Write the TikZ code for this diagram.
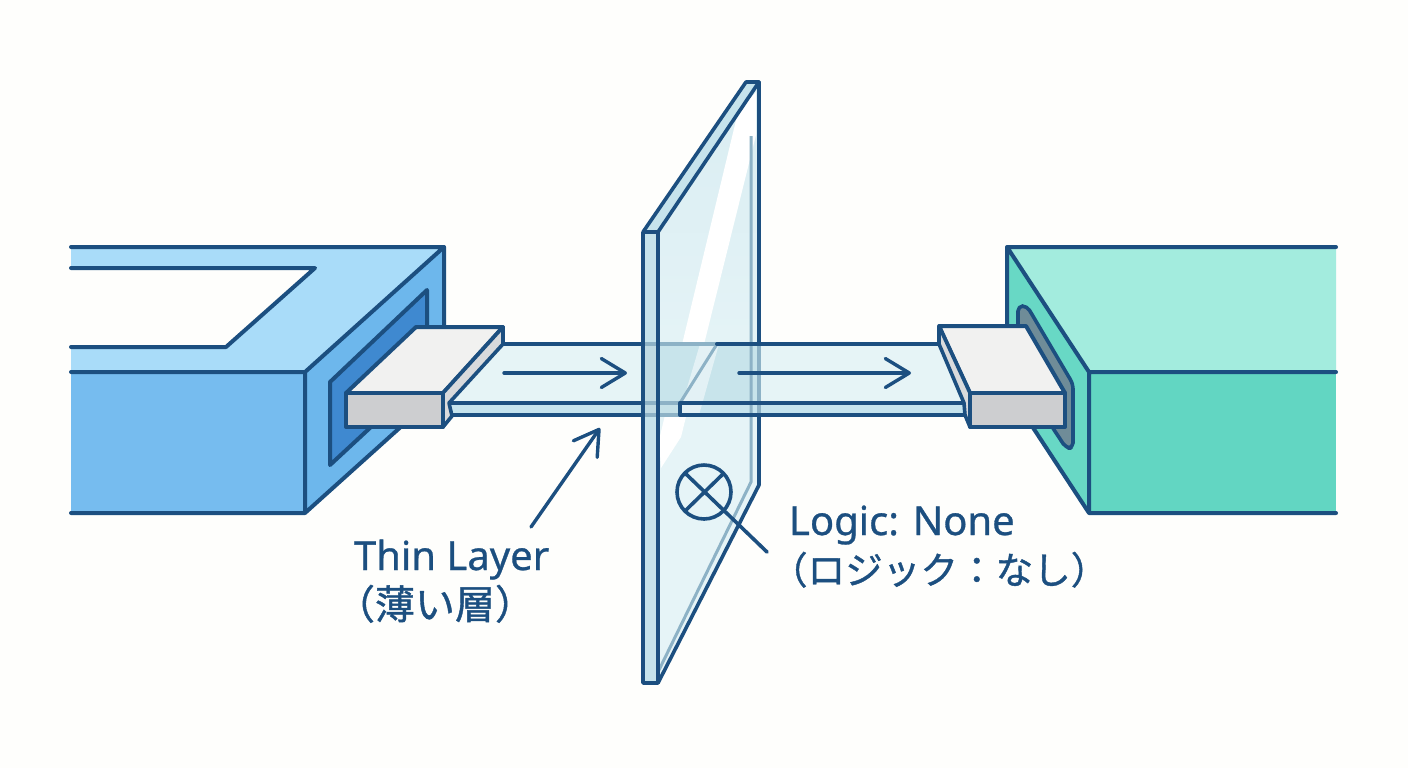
\documentclass[tikz,border=0pt]{standalone}
\usepackage{fontspec}
\setmainfont[FakeBold=0.7]{Noto Sans}
\newfontfamily\cjk[FakeBold=1]{Noto Sans CJK JP}
\usetikzlibrary{arrows.meta}
\definecolor{ink}{HTML}{1C4F80}
\definecolor{muted}{HTML}{8DB2C6}
\definecolor{paper}{HTML}{FEFEFC}
\definecolor{lbfront}{HTML}{76BCEF}
\definecolor{lbtop}{HTML}{A9DCF9}
\definecolor{lbside}{HTML}{6DB7EC}
\definecolor{lbrec}{HTML}{3F89D0}
\definecolor{rbfront}{HTML}{62D6C2}
\definecolor{rbtop}{HTML}{A3ECDE}
\definecolor{rbside}{HTML}{68D8C5}
\definecolor{slotc}{HTML}{6F8C98}
\definecolor{plTop}{HTML}{F1F1F0}
\definecolor{plFront}{HTML}{CDCED0}
\definecolor{plSide}{HTML}{D9DADC}
\definecolor{layer}{HTML}{E6F4F6}
\definecolor{layerdk}{HTML}{C8E4EB}
\definecolor{strip}{HTML}{C6E4EE}
\definecolor{glass}{HTML}{E6F4F7}
\definecolor{glasstop}{HTML}{D9EDF2}
\definecolor{glassedge}{HTML}{C6E3EC}
\tikzset{
  edge/.style={draw=ink,line width=2pt,line cap=round,line join=round},
  thinedge/.style={draw=ink,line width=1.8pt,line cap=round,line join=round},
  faint/.style={draw=muted,line width=1.5pt},
  flow/.style={draw=ink,line width=1.7pt,line cap=round,-{Straight Barb[length=12pt,width=14.5pt,line width=1.7pt,round]}},
  label/.style={text=ink,font=\fontsize{20pt}{24pt}\selectfont,anchor=base west,inner sep=0pt,outer sep=0pt},
  labelb/.style={label,font=\fontsize{18.8pt}{24pt}\selectfont},
}
\begin{document}
\begin{tikzpicture}[x=0.5pt,y=-0.5pt]
\useasboundingbox (0,0) rectangle (1408,768);
\fill[paper] (0,0) rectangle (1408,768);

% left box
\fill[lbside] (305,372) -- (444,247) -- (444,388) -- (305,513) -- cycle;
\fill[lbfront] (71,372) rectangle (305,513);
\fill[lbtop] (71,247) -- (444,247) -- (305,372) -- (71,372) -- cycle;
\fill[paper] (71,268) -- (315,268) -- (226,347) -- (71,347) -- cycle;
\path[edge,fill=lbrec] (330,382) -- (427,290) -- (427,375) -- (330,465) -- cycle;
\draw[edge] (71,247) -- (444,247) -- (305,372) (71,268) -- (315,268) -- (226,347) -- (71,347);
\draw[edge] (71,372) -- (305,372) -- (305,513) (71,513) -- (305,513) -- (444,388) -- (444,247);

% right box
\fill[rbside] (1007,247) -- (1089,372) -- (1089,513) -- (1007,388) -- cycle;
\fill[rbtop] (1007,247) -- (1336,247) -- (1336,372) -- (1089,372) -- cycle;
\fill[rbfront] (1089,372) rectangle (1336,513);
\path[thinedge,fill=slotc,rounded corners=2.5pt] (1018,306) -- (1027,306) -- (1073,384) -- (1073,448) -- (1066,448) -- (1018,375) -- cycle;
\draw[edge] (1336,247) -- (1007,247) -- (1089,372) -- (1336,372) (1089,372) -- (1089,513) (1336,513) -- (1089,513) -- (1007,388) -- (1007,247);

% left layer
\fill[layer] (449,403) -- (503,344) -- (643,344) -- (643,403) -- cycle;
\fill[strip] (449,403) rectangle (643,415);
\coordinate (la) at (504,373);
\coordinate (lb) at (627,373);
\draw[flow] (la) -- (lb);

% glass
\shade[top color=glasstop,bottom color=glass,middle color=glass] (658,232) -- (759,82) -- (759,485) -- (658,683) -- cycle;
\fill[glassedge] (643,232) -- (746,82) -- (759,82) -- (658,232) -- cycle;
\fill[glassedge] (643,232) rectangle (658,683);
\fill[white] (738,112) -- (756,92) -- (756,135) -- (681,437) -- (661,468) -- (659,440) -- cycle;
\fill[layerdk] (658,344) -- (717,344) -- (680,403) -- (658,403) -- cycle;
\fill[strip!85!black!10!layerdk] (658,403) rectangle (680,415);
\fill[strip!90!gray] (643,344) rectangle (658,415);
% right layer
\fill[layer] (717,344) -- (939,344) -- (964,403) -- (680,403) -- cycle;
\fill[layerdk] (717,344) -- (759,344) -- (759,403) -- (680,403) -- cycle;
\fill[strip] (680,403) rectangle (965,415);
% streak over the layer
\fill[white,opacity=.5] (700,344) -- (719,344) -- (699,415) -- (679,415) -- cycle;
% inner faint lines
\draw[faint] (751,136) -- (751,482) -- (658,672);
% through-glass lines
\draw[faint,line width=1.7pt] (643,344) -- (717,344) (643,403) -- (680,403) (643,415) -- (680,415) (759,344) -- (759,415);
\draw[faint] (717,344) -- (680,403);
% glass outline
\draw[thinedge] (643,232) -- (746,82) -- (759,82) -- (658,232) -- (643,232) -- (643,683) -- (658,683) -- (658,232);
\draw[thinedge] (759,82) -- (759,344) (759,415) -- (759,485) -- (658,683);

% layer lines
\draw[edge] (503,344) -- (643,344) (449,403) -- (643,403) (452,415) -- (643,415);
\draw[edge] (717,344) -- (939,344) (680,403) -- (964,403) (680,403) -- (680,415) -- (965,415);
\coordinate (ra) at (739,373);
\coordinate (rb) at (911,373);
\draw[flow] (ra) -- (rb);

% left plate
\path[edge,fill=plTop] (346,393) -- (416,327) -- (503,327) -- (443,393) -- cycle;
\path[edge,fill=plFront] (346,393) rectangle (443,427);
\path[thinedge,fill=plSide] (443,393) -- (503,327) -- (503,344) -- (449,403) -- (452,416) -- (443,427) -- cycle;

% right plate
\path[edge,fill=plTop] (939,326) -- (1026,326) -- (1065,393) -- (970,393) -- cycle;
\path[edge,fill=plFront] (970,393) rectangle (1065,427);
\path[thinedge,fill=plSide] (939,326) -- (970,393) -- (970,427) -- (965,415) -- (964,403) -- (939,344) -- cycle;

% logic mark
\node[draw=ink,line width=1.8pt,circle,minimum size=27pt,inner sep=0pt,outer sep=0pt] (mark) at (704,492) {};
\coordinate (ma) at (686,474);
\coordinate (mb) at (767,552);
\coordinate (mc) at (723,474);
\coordinate (md) at (685,511);
\draw[thinedge] (ma) -- (mb) (mc) -- (md);

% thin layer pointer
\coordinate (pa) at (531,527);
\coordinate (pb) at (600,428);
\draw[flow] (pa) -- (pb);

% labels
\node[label] (t1) at (354,570) {Thin Layer};
\node[label] (t2) at (335,619) {\cjk （薄い層）};
\node[label] (t3) at (789,535) {Logic: None};
\node[labelb] (t4) at (770,584) {\cjk （ロジック：なし）};
\end{tikzpicture}
\end{document}
